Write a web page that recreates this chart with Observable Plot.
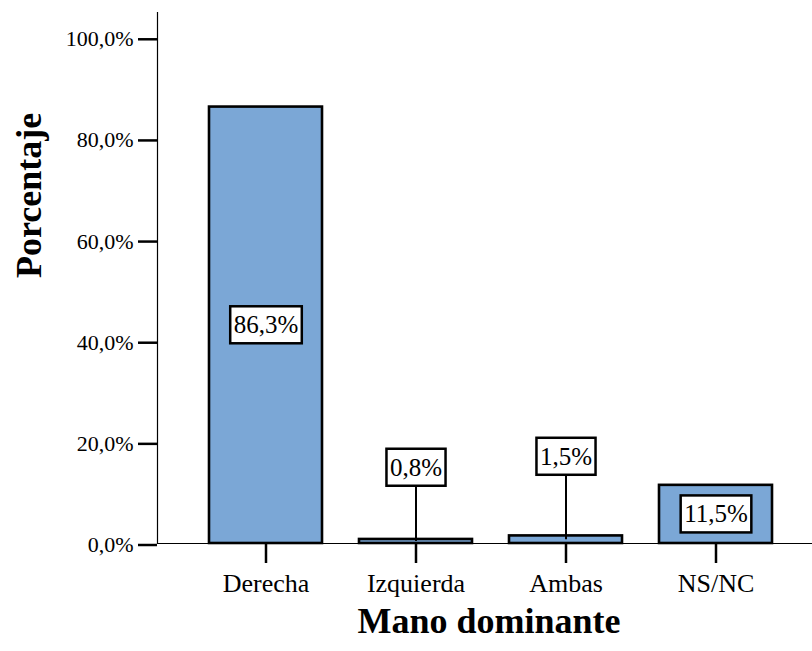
<!DOCTYPE html>
<html>
<head>
<meta charset="utf-8">
<script src="https://cdn.jsdelivr.net/npm/d3@7"></script>
<script src="https://cdn.jsdelivr.net/npm/@observablehq/plot@0.6"></script>
<style>
  html, body { margin: 0; padding: 0; background: #fff; }
  svg { display: block; }
  svg text { font-family: "Liberation Serif", "Times New Roman", Times, serif; }
</style>
</head>
<body>
<div id="chart"></div>
<script>
// Data
const categories = ["Derecha", "Izquierda", "Ambas", "NS/NC"];
const percentages = [86.3, 0.8, 1.5, 11.5];
const valueLabels = ["86,3%", "0,8%", "1,5%", "11,5%"];
const yTicks = [0, 20, 40, 60, 80, 100];
const yTickLabels = ["0,0%", "20,0%", "40,0%", "60,0%", "80,0%", "100,0%"];
const xTitle = "Mano dominante";
const yTitle = "Porcentaje";

// label placement: inside tall bars (centered), above short bars with a leader line
const rows = categories.map((c, i) => ({
  cat: c,
  value: percentages[i],
  label: valueLabels[i],
  small: percentages[i] < 5,
  labelY: percentages[i] < 5 ? 12.5 + 3.1 * percentages[i] : percentages[i] / 2
}));

const serif = "Liberation Serif";

const chart = Plot.plot({
  width: 812,
  height: 651,
  marginLeft: 157,
  marginRight: 0,
  marginTop: 12,
  marginBottom: 108,
  style: { fontFamily: serif, background: "#fff", color: "#000" },
  x: { domain: categories, paddingInner: 0.25, paddingOuter: 0, insetLeft: 52, insetRight: 40.5, label: null },
  y: { domain: [0, 105], label: null },
  marks: [
    Plot.frame({ anchor: "left", strokeWidth: 1.2 }),
    Plot.ruleY([0], { strokeWidth: 1.2 }),
    Plot.axisY({
      ticks: yTicks,
      tickFormat: d => yTickLabels[yTicks.indexOf(d)],
      tickSize: 19, tickPadding: 5, fontSize: 22, fontFamily: serif, strokeWidth: 2.5, dy: 1.5, label: null
    }),
    Plot.axisX({ tickSize: 20, tickPadding: 10, fontSize: 26, fontFamily: serif, strokeWidth: 2.5, label: null }),
    Plot.barY(rows, { x: "cat", y: "value", fill: "#7ba7d6", stroke: "#000", strokeWidth: 2.6 }),
    Plot.ruleX(rows.filter(d => d.small), { x: "cat", y1: d => d.value / 2, y2: "labelY", strokeWidth: 2 }),
    Plot.text([yTitle], { frameAnchor: "left", rotate: -90, dx: -128, fontSize: 36, fontWeight: "bold", fontFamily: serif }),
    Plot.text([xTitle], { frameAnchor: "bottom", dy: 89.5, dx: 4, fontSize: 36, fontWeight: "bold", fontFamily: serif }),
    Plot.text(rows, { x: "cat", y: "labelY", text: "label", fontSize: 25, fontFamily: serif })
  ]
});

document.getElementById("chart").appendChild(chart);

// Draw boxes behind the value labels
const groups = chart.querySelectorAll('g[aria-label="text"]');
const labelGroup = groups[groups.length - 1];
labelGroup.querySelectorAll("text").forEach(t => {
  const bb = t.getBBox();
  const padX = 3.5, padY = 6;
  const r = document.createElementNS("http://www.w3.org/2000/svg", "rect");
  r.setAttribute("x", bb.x - padX);
  r.setAttribute("y", bb.y - padY + 1);
  r.setAttribute("width", bb.width + 2 * padX);
  r.setAttribute("height", bb.height + 2 * padY - 2);
  r.setAttribute("fill", "#fff");
  r.setAttribute("stroke", "#000");
  r.setAttribute("stroke-width", 2.5);
  const tr = t.getAttribute("transform");
  if (tr) r.setAttribute("transform", tr);
  t.parentNode.insertBefore(r, t);
});
</script>
</body>
</html>
